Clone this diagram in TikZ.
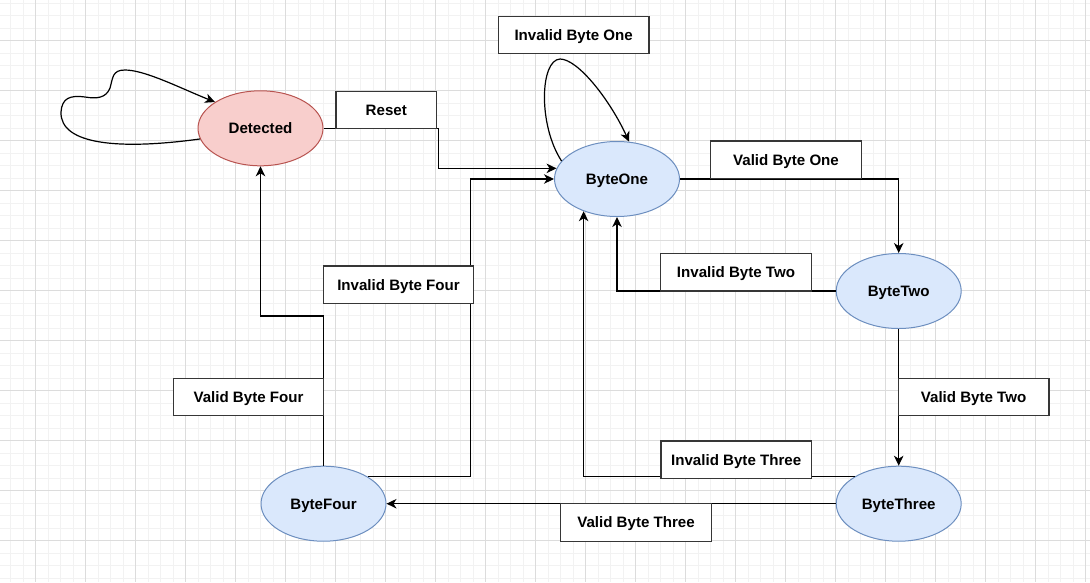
\documentclass[tikz,border=0pt]{standalone}
\usepackage{fontspec}
\setmainfont{Liberation Sans}
\usetikzlibrary{arrows.meta,shapes.geometric}

\definecolor{redfill}{HTML}{F8CECC}
\definecolor{redline}{HTML}{B85450}
\definecolor{bluefill}{HTML}{DAE8FC}
\definecolor{blueline}{HTML}{6C8EBF}
\definecolor{boxline}{HTML}{363636}
\definecolor{minorgrid}{HTML}{F2F2F2}
\definecolor{majorgrid}{HTML}{DCDCDC}

\tikzset{
  state/.style={ellipse, draw=blueline, fill=bluefill, line width=1pt,
    minimum width=125pt, minimum height=75pt, inner sep=0pt,
    text height=10.8pt, text depth=0pt,
    font=\fontsize{15.1}{17}\selectfont\bfseries},
  final/.style={state, draw=redline, fill=redfill},
  tag/.style={rectangle, draw=boxline, fill=white, line width=1.3pt,
    minimum width=150.6pt, minimum height=37.4pt, inner sep=0pt,
    text height=10.8pt, text depth=0pt,
    font=\fontsize{15.1}{17}\selectfont\bfseries},
  edge/.style={draw=black, line width=1.2pt,
    -{Stealth[length=10pt,width=9.5pt,inset=3pt]}},
}

\begin{document}
\begin{tikzpicture}[x=1pt,y=-1pt]
\useasboundingbox (0,0) rectangle (1090,582);
\fill[white] (0,0) rectangle (1090,582);

% background grid: fine lines every 12.5, heavier every 50
\foreach \i in {0,...,87} {
  \pgfmathsetmacro\gx{10.7+12.5*\i}
  \draw[minorgrid, line width=1pt] (\gx,0) -- (\gx,582);
}
\foreach \i in {0,...,46} {
  \pgfmathsetmacro\gy{3.2+12.5*\i}
  \draw[minorgrid, line width=1pt] (0,\gy) -- (1090,\gy);
}
\foreach \i in {0,...,21} {
  \pgfmathsetmacro\gx{35.7+50*\i}
  \draw[majorgrid, line width=1pt] (\gx,0) -- (\gx,582);
}
\foreach \i in {0,...,11} {
  \pgfmathsetmacro\gy{40.7+50*\i}
  \draw[majorgrid, line width=1pt] (0,\gy) -- (1090,\gy);
}

% states
\node[final] (det) at (260.5,128.3) {Detected};
\node[state] (b1) at (617,179) {ByteOne};
\node[state] (b2) at (898.7,291) {ByteTwo};
\node[state] (b3) at (898.7,503.7) {ByteThree};
\node[state] (b4) at (323.5,503.7) {ByteFour};

% transitions
\draw[edge] (det.190) .. controls (120,150) and (60,145) .. (61,112)
  .. controls (62,98) and (70,95) .. (85,97)
  .. controls (97,99) and (106,98) .. (110,88)
  .. controls (113,78) and (112,70) .. (125,70)
  .. controls (145,70) and (180,88) .. (det.150);
\draw[edge] (det.east) -| (438.3,150) |- (b1.170);
\draw[edge] (b1.162) .. controls (538,125) and (540,60) .. (560,59)
  .. controls (578,59) and (610,100) .. (b1.72);
\draw[edge] (b1.east) -| (b2.north);
\draw[edge] (b2.west) -| (b1.south);
\draw[edge] (b2.south) -- (b3.north);
\draw[edge] (b3.148) -| (b1.224);
\draw[edge] (b3.west) -- (b4.east);
\draw[edge] (b4.31) -| (470.7,300) |- (b1.west);
\draw[edge] (b4.north) -- (323.5,316) -| (det.south);

% transition labels
\node[tag] (l1) at (573.7,34.9) {Invalid Byte One};
\node[tag, minimum width=100.7pt, minimum height=36.7pt] (l2) at (386.3,110) {Reset};
\node[tag] (l3) at (786,159.7) {Valid Byte One};
\node[tag] (l4) at (736,272.3) {Invalid Byte Two};
\node[tag] (l5) at (398.5,284.7) {Invalid Byte Four};
\node[tag] (l6) at (248.5,397) {Valid Byte Four};
\node[tag] (l7) at (973.6,397) {Valid Byte Two};
\node[tag] (l8) at (736.2,459.8) {Invalid Byte Three};
\node[tag] (l9) at (636,522.5) {Valid Byte Three};
\end{tikzpicture}
\end{document}
